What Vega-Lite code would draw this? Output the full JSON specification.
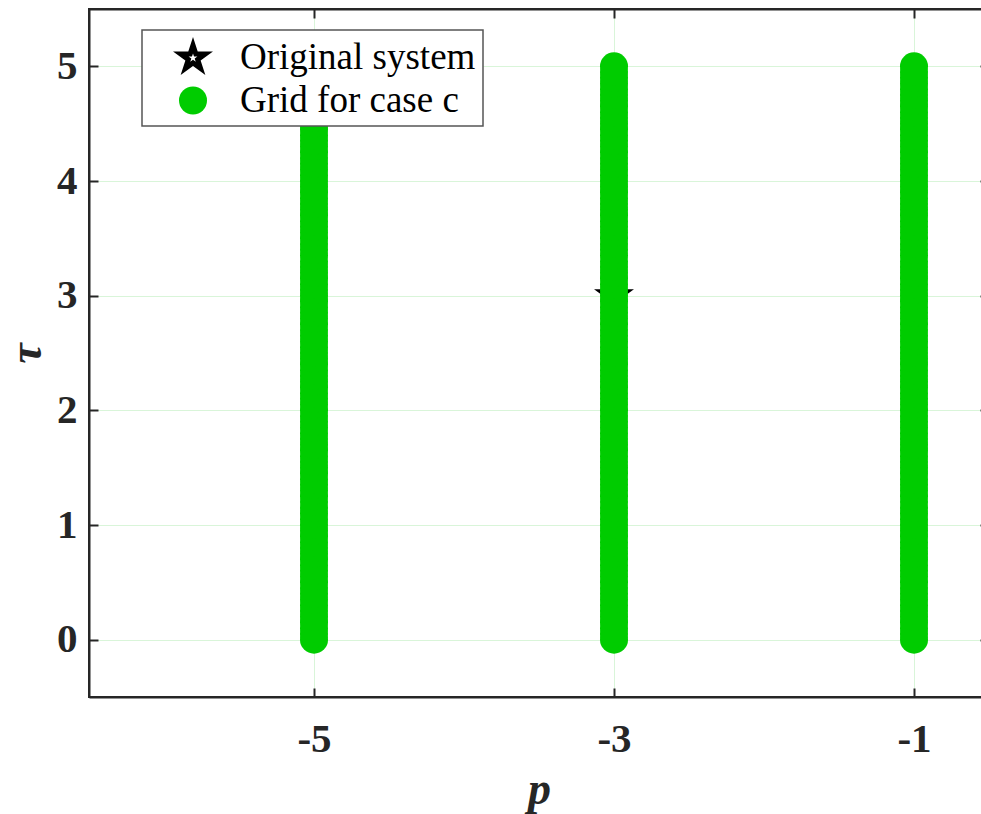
{
  "$schema": "https://vega.github.io/schema/vega-lite/v6.json",
  "width": 900,
  "height": 688,
  "autosize": {"type": "none"},
  "padding": {"left": 89, "top": 9, "right": 0, "bottom": 117},
  "background": "white",
  "config": {
    "view": {"stroke": "#262626", "strokeWidth": 2},
    "font": "Liberation Serif",
    "axis": {
      "domainColor": "#262626",
      "domainWidth": 2,
      "tickColor": "#262626",
      "tickWidth": 2,
      "tickSize": -9,
      "labelFont": "Liberation Serif",
      "labelFontWeight": "bold",
      "labelFontSize": 41,
      "labelColor": "#262626",
      "gridColor": "#d9f5d9",
      "gridWidth": 1,
      "titleFont": "Liberation Serif",
      "titleFontWeight": "bold",
      "titleFontStyle": "italic",
      "titleFontSize": 46,
      "titleColor": "#262626"
    },
    "legend": {
      "orient": "none",
      "legendX": 53,
      "legendY": 21,
      "strokeColor": "#555555",
      "strokeWidth": 1.5,
      "fillColor": "white",
      "padding": 7,
      "symbolOffset": 23,
      "labelOffset": 26,
      "labelLimit": 500,
      "labelFont": "Liberation Serif",
      "labelFontSize": 37,
      "labelColor": "black",
      "rowPadding": 5,
      "symbolStrokeWidth": 0
    }
  },
  "data": {
    "values": [
      {"p": -3, "tau": 3, "series": "Original system"},
      {"p": -5, "tau": 0, "series": "Grid for case c"}, {"p": -5, "tau": 0.05, "series": "Grid for case c"}, {"p": -5, "tau": 0.1, "series": "Grid for case c"}, {"p": -5, "tau": 0.15, "series": "Grid for case c"}, {"p": -5, "tau": 0.2, "series": "Grid for case c"}, {"p": -5, "tau": 0.25, "series": "Grid for case c"}, {"p": -5, "tau": 0.3, "series": "Grid for case c"}, {"p": -5, "tau": 0.35, "series": "Grid for case c"}, {"p": -5, "tau": 0.4, "series": "Grid for case c"}, {"p": -5, "tau": 0.45, "series": "Grid for case c"},
      {"p": -5, "tau": 0.5, "series": "Grid for case c"}, {"p": -5, "tau": 0.55, "series": "Grid for case c"}, {"p": -5, "tau": 0.6, "series": "Grid for case c"}, {"p": -5, "tau": 0.65, "series": "Grid for case c"}, {"p": -5, "tau": 0.7, "series": "Grid for case c"}, {"p": -5, "tau": 0.75, "series": "Grid for case c"}, {"p": -5, "tau": 0.8, "series": "Grid for case c"}, {"p": -5, "tau": 0.85, "series": "Grid for case c"}, {"p": -5, "tau": 0.9, "series": "Grid for case c"}, {"p": -5, "tau": 0.95, "series": "Grid for case c"},
      {"p": -5, "tau": 1, "series": "Grid for case c"}, {"p": -5, "tau": 1.05, "series": "Grid for case c"}, {"p": -5, "tau": 1.1, "series": "Grid for case c"}, {"p": -5, "tau": 1.15, "series": "Grid for case c"}, {"p": -5, "tau": 1.2, "series": "Grid for case c"}, {"p": -5, "tau": 1.25, "series": "Grid for case c"}, {"p": -5, "tau": 1.3, "series": "Grid for case c"}, {"p": -5, "tau": 1.35, "series": "Grid for case c"}, {"p": -5, "tau": 1.4, "series": "Grid for case c"}, {"p": -5, "tau": 1.45, "series": "Grid for case c"},
      {"p": -5, "tau": 1.5, "series": "Grid for case c"}, {"p": -5, "tau": 1.55, "series": "Grid for case c"}, {"p": -5, "tau": 1.6, "series": "Grid for case c"}, {"p": -5, "tau": 1.65, "series": "Grid for case c"}, {"p": -5, "tau": 1.7, "series": "Grid for case c"}, {"p": -5, "tau": 1.75, "series": "Grid for case c"}, {"p": -5, "tau": 1.8, "series": "Grid for case c"}, {"p": -5, "tau": 1.85, "series": "Grid for case c"}, {"p": -5, "tau": 1.9, "series": "Grid for case c"}, {"p": -5, "tau": 1.95, "series": "Grid for case c"},
      {"p": -5, "tau": 2, "series": "Grid for case c"}, {"p": -5, "tau": 2.05, "series": "Grid for case c"}, {"p": -5, "tau": 2.1, "series": "Grid for case c"}, {"p": -5, "tau": 2.15, "series": "Grid for case c"}, {"p": -5, "tau": 2.2, "series": "Grid for case c"}, {"p": -5, "tau": 2.25, "series": "Grid for case c"}, {"p": -5, "tau": 2.3, "series": "Grid for case c"}, {"p": -5, "tau": 2.35, "series": "Grid for case c"}, {"p": -5, "tau": 2.4, "series": "Grid for case c"}, {"p": -5, "tau": 2.45, "series": "Grid for case c"},
      {"p": -5, "tau": 2.5, "series": "Grid for case c"}, {"p": -5, "tau": 2.55, "series": "Grid for case c"}, {"p": -5, "tau": 2.6, "series": "Grid for case c"}, {"p": -5, "tau": 2.65, "series": "Grid for case c"}, {"p": -5, "tau": 2.7, "series": "Grid for case c"}, {"p": -5, "tau": 2.75, "series": "Grid for case c"}, {"p": -5, "tau": 2.8, "series": "Grid for case c"}, {"p": -5, "tau": 2.85, "series": "Grid for case c"}, {"p": -5, "tau": 2.9, "series": "Grid for case c"}, {"p": -5, "tau": 2.95, "series": "Grid for case c"},
      {"p": -5, "tau": 3, "series": "Grid for case c"}, {"p": -5, "tau": 3.05, "series": "Grid for case c"}, {"p": -5, "tau": 3.1, "series": "Grid for case c"}, {"p": -5, "tau": 3.15, "series": "Grid for case c"}, {"p": -5, "tau": 3.2, "series": "Grid for case c"}, {"p": -5, "tau": 3.25, "series": "Grid for case c"}, {"p": -5, "tau": 3.3, "series": "Grid for case c"}, {"p": -5, "tau": 3.35, "series": "Grid for case c"}, {"p": -5, "tau": 3.4, "series": "Grid for case c"}, {"p": -5, "tau": 3.45, "series": "Grid for case c"},
      {"p": -5, "tau": 3.5, "series": "Grid for case c"}, {"p": -5, "tau": 3.55, "series": "Grid for case c"}, {"p": -5, "tau": 3.6, "series": "Grid for case c"}, {"p": -5, "tau": 3.65, "series": "Grid for case c"}, {"p": -5, "tau": 3.7, "series": "Grid for case c"}, {"p": -5, "tau": 3.75, "series": "Grid for case c"}, {"p": -5, "tau": 3.8, "series": "Grid for case c"}, {"p": -5, "tau": 3.85, "series": "Grid for case c"}, {"p": -5, "tau": 3.9, "series": "Grid for case c"}, {"p": -5, "tau": 3.95, "series": "Grid for case c"},
      {"p": -5, "tau": 4, "series": "Grid for case c"}, {"p": -5, "tau": 4.05, "series": "Grid for case c"}, {"p": -5, "tau": 4.1, "series": "Grid for case c"}, {"p": -5, "tau": 4.15, "series": "Grid for case c"}, {"p": -5, "tau": 4.2, "series": "Grid for case c"}, {"p": -5, "tau": 4.25, "series": "Grid for case c"}, {"p": -5, "tau": 4.3, "series": "Grid for case c"}, {"p": -5, "tau": 4.35, "series": "Grid for case c"}, {"p": -5, "tau": 4.4, "series": "Grid for case c"}, {"p": -5, "tau": 4.45, "series": "Grid for case c"},
      {"p": -5, "tau": 4.5, "series": "Grid for case c"}, {"p": -5, "tau": 4.55, "series": "Grid for case c"}, {"p": -5, "tau": 4.6, "series": "Grid for case c"}, {"p": -5, "tau": 4.65, "series": "Grid for case c"}, {"p": -5, "tau": 4.7, "series": "Grid for case c"}, {"p": -5, "tau": 4.75, "series": "Grid for case c"}, {"p": -5, "tau": 4.8, "series": "Grid for case c"}, {"p": -5, "tau": 4.85, "series": "Grid for case c"}, {"p": -5, "tau": 4.9, "series": "Grid for case c"}, {"p": -5, "tau": 4.95, "series": "Grid for case c"},
      {"p": -5, "tau": 5, "series": "Grid for case c"},
      {"p": -3, "tau": 0, "series": "Grid for case c"}, {"p": -3, "tau": 0.05, "series": "Grid for case c"}, {"p": -3, "tau": 0.1, "series": "Grid for case c"}, {"p": -3, "tau": 0.15, "series": "Grid for case c"}, {"p": -3, "tau": 0.2, "series": "Grid for case c"}, {"p": -3, "tau": 0.25, "series": "Grid for case c"}, {"p": -3, "tau": 0.3, "series": "Grid for case c"}, {"p": -3, "tau": 0.35, "series": "Grid for case c"}, {"p": -3, "tau": 0.4, "series": "Grid for case c"}, {"p": -3, "tau": 0.45, "series": "Grid for case c"},
      {"p": -3, "tau": 0.5, "series": "Grid for case c"}, {"p": -3, "tau": 0.55, "series": "Grid for case c"}, {"p": -3, "tau": 0.6, "series": "Grid for case c"}, {"p": -3, "tau": 0.65, "series": "Grid for case c"}, {"p": -3, "tau": 0.7, "series": "Grid for case c"}, {"p": -3, "tau": 0.75, "series": "Grid for case c"}, {"p": -3, "tau": 0.8, "series": "Grid for case c"}, {"p": -3, "tau": 0.85, "series": "Grid for case c"}, {"p": -3, "tau": 0.9, "series": "Grid for case c"}, {"p": -3, "tau": 0.95, "series": "Grid for case c"},
      {"p": -3, "tau": 1, "series": "Grid for case c"}, {"p": -3, "tau": 1.05, "series": "Grid for case c"}, {"p": -3, "tau": 1.1, "series": "Grid for case c"}, {"p": -3, "tau": 1.15, "series": "Grid for case c"}, {"p": -3, "tau": 1.2, "series": "Grid for case c"}, {"p": -3, "tau": 1.25, "series": "Grid for case c"}, {"p": -3, "tau": 1.3, "series": "Grid for case c"}, {"p": -3, "tau": 1.35, "series": "Grid for case c"}, {"p": -3, "tau": 1.4, "series": "Grid for case c"}, {"p": -3, "tau": 1.45, "series": "Grid for case c"},
      {"p": -3, "tau": 1.5, "series": "Grid for case c"}, {"p": -3, "tau": 1.55, "series": "Grid for case c"}, {"p": -3, "tau": 1.6, "series": "Grid for case c"}, {"p": -3, "tau": 1.65, "series": "Grid for case c"}, {"p": -3, "tau": 1.7, "series": "Grid for case c"}, {"p": -3, "tau": 1.75, "series": "Grid for case c"}, {"p": -3, "tau": 1.8, "series": "Grid for case c"}, {"p": -3, "tau": 1.85, "series": "Grid for case c"}, {"p": -3, "tau": 1.9, "series": "Grid for case c"}, {"p": -3, "tau": 1.95, "series": "Grid for case c"},
      {"p": -3, "tau": 2, "series": "Grid for case c"}, {"p": -3, "tau": 2.05, "series": "Grid for case c"}, {"p": -3, "tau": 2.1, "series": "Grid for case c"}, {"p": -3, "tau": 2.15, "series": "Grid for case c"}, {"p": -3, "tau": 2.2, "series": "Grid for case c"}, {"p": -3, "tau": 2.25, "series": "Grid for case c"}, {"p": -3, "tau": 2.3, "series": "Grid for case c"}, {"p": -3, "tau": 2.35, "series": "Grid for case c"}, {"p": -3, "tau": 2.4, "series": "Grid for case c"}, {"p": -3, "tau": 2.45, "series": "Grid for case c"},
      {"p": -3, "tau": 2.5, "series": "Grid for case c"}, {"p": -3, "tau": 2.55, "series": "Grid for case c"}, {"p": -3, "tau": 2.6, "series": "Grid for case c"}, {"p": -3, "tau": 2.65, "series": "Grid for case c"}, {"p": -3, "tau": 2.7, "series": "Grid for case c"}, {"p": -3, "tau": 2.75, "series": "Grid for case c"}, {"p": -3, "tau": 2.8, "series": "Grid for case c"}, {"p": -3, "tau": 2.85, "series": "Grid for case c"}, {"p": -3, "tau": 2.9, "series": "Grid for case c"}, {"p": -3, "tau": 2.95, "series": "Grid for case c"},
      {"p": -3, "tau": 3, "series": "Grid for case c"}, {"p": -3, "tau": 3.05, "series": "Grid for case c"}, {"p": -3, "tau": 3.1, "series": "Grid for case c"}, {"p": -3, "tau": 3.15, "series": "Grid for case c"}, {"p": -3, "tau": 3.2, "series": "Grid for case c"}, {"p": -3, "tau": 3.25, "series": "Grid for case c"}, {"p": -3, "tau": 3.3, "series": "Grid for case c"}, {"p": -3, "tau": 3.35, "series": "Grid for case c"}, {"p": -3, "tau": 3.4, "series": "Grid for case c"}, {"p": -3, "tau": 3.45, "series": "Grid for case c"},
      {"p": -3, "tau": 3.5, "series": "Grid for case c"}, {"p": -3, "tau": 3.55, "series": "Grid for case c"}, {"p": -3, "tau": 3.6, "series": "Grid for case c"}, {"p": -3, "tau": 3.65, "series": "Grid for case c"}, {"p": -3, "tau": 3.7, "series": "Grid for case c"}, {"p": -3, "tau": 3.75, "series": "Grid for case c"}, {"p": -3, "tau": 3.8, "series": "Grid for case c"}, {"p": -3, "tau": 3.85, "series": "Grid for case c"}, {"p": -3, "tau": 3.9, "series": "Grid for case c"}, {"p": -3, "tau": 3.95, "series": "Grid for case c"},
      {"p": -3, "tau": 4, "series": "Grid for case c"}, {"p": -3, "tau": 4.05, "series": "Grid for case c"}, {"p": -3, "tau": 4.1, "series": "Grid for case c"}, {"p": -3, "tau": 4.15, "series": "Grid for case c"}, {"p": -3, "tau": 4.2, "series": "Grid for case c"}, {"p": -3, "tau": 4.25, "series": "Grid for case c"}, {"p": -3, "tau": 4.3, "series": "Grid for case c"}, {"p": -3, "tau": 4.35, "series": "Grid for case c"}, {"p": -3, "tau": 4.4, "series": "Grid for case c"}, {"p": -3, "tau": 4.45, "series": "Grid for case c"},
      {"p": -3, "tau": 4.5, "series": "Grid for case c"}, {"p": -3, "tau": 4.55, "series": "Grid for case c"}, {"p": -3, "tau": 4.6, "series": "Grid for case c"}, {"p": -3, "tau": 4.65, "series": "Grid for case c"}, {"p": -3, "tau": 4.7, "series": "Grid for case c"}, {"p": -3, "tau": 4.75, "series": "Grid for case c"}, {"p": -3, "tau": 4.8, "series": "Grid for case c"}, {"p": -3, "tau": 4.85, "series": "Grid for case c"}, {"p": -3, "tau": 4.9, "series": "Grid for case c"}, {"p": -3, "tau": 4.95, "series": "Grid for case c"},
      {"p": -3, "tau": 5, "series": "Grid for case c"},
      {"p": -1, "tau": 0, "series": "Grid for case c"}, {"p": -1, "tau": 0.05, "series": "Grid for case c"}, {"p": -1, "tau": 0.1, "series": "Grid for case c"}, {"p": -1, "tau": 0.15, "series": "Grid for case c"}, {"p": -1, "tau": 0.2, "series": "Grid for case c"}, {"p": -1, "tau": 0.25, "series": "Grid for case c"}, {"p": -1, "tau": 0.3, "series": "Grid for case c"}, {"p": -1, "tau": 0.35, "series": "Grid for case c"}, {"p": -1, "tau": 0.4, "series": "Grid for case c"}, {"p": -1, "tau": 0.45, "series": "Grid for case c"},
      {"p": -1, "tau": 0.5, "series": "Grid for case c"}, {"p": -1, "tau": 0.55, "series": "Grid for case c"}, {"p": -1, "tau": 0.6, "series": "Grid for case c"}, {"p": -1, "tau": 0.65, "series": "Grid for case c"}, {"p": -1, "tau": 0.7, "series": "Grid for case c"}, {"p": -1, "tau": 0.75, "series": "Grid for case c"}, {"p": -1, "tau": 0.8, "series": "Grid for case c"}, {"p": -1, "tau": 0.85, "series": "Grid for case c"}, {"p": -1, "tau": 0.9, "series": "Grid for case c"}, {"p": -1, "tau": 0.95, "series": "Grid for case c"},
      {"p": -1, "tau": 1, "series": "Grid for case c"}, {"p": -1, "tau": 1.05, "series": "Grid for case c"}, {"p": -1, "tau": 1.1, "series": "Grid for case c"}, {"p": -1, "tau": 1.15, "series": "Grid for case c"}, {"p": -1, "tau": 1.2, "series": "Grid for case c"}, {"p": -1, "tau": 1.25, "series": "Grid for case c"}, {"p": -1, "tau": 1.3, "series": "Grid for case c"}, {"p": -1, "tau": 1.35, "series": "Grid for case c"}, {"p": -1, "tau": 1.4, "series": "Grid for case c"}, {"p": -1, "tau": 1.45, "series": "Grid for case c"},
      {"p": -1, "tau": 1.5, "series": "Grid for case c"}, {"p": -1, "tau": 1.55, "series": "Grid for case c"}, {"p": -1, "tau": 1.6, "series": "Grid for case c"}, {"p": -1, "tau": 1.65, "series": "Grid for case c"}, {"p": -1, "tau": 1.7, "series": "Grid for case c"}, {"p": -1, "tau": 1.75, "series": "Grid for case c"}, {"p": -1, "tau": 1.8, "series": "Grid for case c"}, {"p": -1, "tau": 1.85, "series": "Grid for case c"}, {"p": -1, "tau": 1.9, "series": "Grid for case c"}, {"p": -1, "tau": 1.95, "series": "Grid for case c"},
      {"p": -1, "tau": 2, "series": "Grid for case c"}, {"p": -1, "tau": 2.05, "series": "Grid for case c"}, {"p": -1, "tau": 2.1, "series": "Grid for case c"}, {"p": -1, "tau": 2.15, "series": "Grid for case c"}, {"p": -1, "tau": 2.2, "series": "Grid for case c"}, {"p": -1, "tau": 2.25, "series": "Grid for case c"}, {"p": -1, "tau": 2.3, "series": "Grid for case c"}, {"p": -1, "tau": 2.35, "series": "Grid for case c"}, {"p": -1, "tau": 2.4, "series": "Grid for case c"}, {"p": -1, "tau": 2.45, "series": "Grid for case c"},
      {"p": -1, "tau": 2.5, "series": "Grid for case c"}, {"p": -1, "tau": 2.55, "series": "Grid for case c"}, {"p": -1, "tau": 2.6, "series": "Grid for case c"}, {"p": -1, "tau": 2.65, "series": "Grid for case c"}, {"p": -1, "tau": 2.7, "series": "Grid for case c"}, {"p": -1, "tau": 2.75, "series": "Grid for case c"}, {"p": -1, "tau": 2.8, "series": "Grid for case c"}, {"p": -1, "tau": 2.85, "series": "Grid for case c"}, {"p": -1, "tau": 2.9, "series": "Grid for case c"}, {"p": -1, "tau": 2.95, "series": "Grid for case c"},
      {"p": -1, "tau": 3, "series": "Grid for case c"}, {"p": -1, "tau": 3.05, "series": "Grid for case c"}, {"p": -1, "tau": 3.1, "series": "Grid for case c"}, {"p": -1, "tau": 3.15, "series": "Grid for case c"}, {"p": -1, "tau": 3.2, "series": "Grid for case c"}, {"p": -1, "tau": 3.25, "series": "Grid for case c"}, {"p": -1, "tau": 3.3, "series": "Grid for case c"}, {"p": -1, "tau": 3.35, "series": "Grid for case c"}, {"p": -1, "tau": 3.4, "series": "Grid for case c"}, {"p": -1, "tau": 3.45, "series": "Grid for case c"},
      {"p": -1, "tau": 3.5, "series": "Grid for case c"}, {"p": -1, "tau": 3.55, "series": "Grid for case c"}, {"p": -1, "tau": 3.6, "series": "Grid for case c"}, {"p": -1, "tau": 3.65, "series": "Grid for case c"}, {"p": -1, "tau": 3.7, "series": "Grid for case c"}, {"p": -1, "tau": 3.75, "series": "Grid for case c"}, {"p": -1, "tau": 3.8, "series": "Grid for case c"}, {"p": -1, "tau": 3.85, "series": "Grid for case c"}, {"p": -1, "tau": 3.9, "series": "Grid for case c"}, {"p": -1, "tau": 3.95, "series": "Grid for case c"},
      {"p": -1, "tau": 4, "series": "Grid for case c"}, {"p": -1, "tau": 4.05, "series": "Grid for case c"}, {"p": -1, "tau": 4.1, "series": "Grid for case c"}, {"p": -1, "tau": 4.15, "series": "Grid for case c"}, {"p": -1, "tau": 4.2, "series": "Grid for case c"}, {"p": -1, "tau": 4.25, "series": "Grid for case c"}, {"p": -1, "tau": 4.3, "series": "Grid for case c"}, {"p": -1, "tau": 4.35, "series": "Grid for case c"}, {"p": -1, "tau": 4.4, "series": "Grid for case c"}, {"p": -1, "tau": 4.45, "series": "Grid for case c"},
      {"p": -1, "tau": 4.5, "series": "Grid for case c"}, {"p": -1, "tau": 4.55, "series": "Grid for case c"}, {"p": -1, "tau": 4.6, "series": "Grid for case c"}, {"p": -1, "tau": 4.65, "series": "Grid for case c"}, {"p": -1, "tau": 4.7, "series": "Grid for case c"}, {"p": -1, "tau": 4.75, "series": "Grid for case c"}, {"p": -1, "tau": 4.8, "series": "Grid for case c"}, {"p": -1, "tau": 4.85, "series": "Grid for case c"}, {"p": -1, "tau": 4.9, "series": "Grid for case c"}, {"p": -1, "tau": 4.95, "series": "Grid for case c"},
      {"p": -1, "tau": 5, "series": "Grid for case c"}
    ]
  },
  "layer": [
    {
      "mark": {"type": "point", "filled": true, "opacity": 1, "strokeWidth": 0},
      "encoding": {
        "x": {
          "field": "p",
          "type": "quantitative",
          "scale": {"domain": [-6.5, -0.5], "nice": false, "zero": false},
          "axis": {
            "orient": "bottom",
            "values": [-5, -3, -1],
            "labelExpr": "'' + datum.value",
            "labelPadding": 31,
            "title": "p",
            "titlePadding": 8,
            "grid": true
          }
        },
        "y": {
          "field": "tau",
          "type": "quantitative",
          "scale": {"domain": [-0.5, 5.5], "nice": false, "zero": false},
          "axis": {
            "orient": "left",
            "values": [0, 1, 2, 3, 4, 5],
            "labelExpr": "'' + datum.value",
            "labelPadding": 21,
            "title": "τ",
            "titlePadding": 6,
            "grid": true
          }
        },
        "color": {
          "field": "series",
          "type": "ordinal",
          "scale": {"domain": ["Original system", "Grid for case c"], "range": ["black", "#00cc00"]},
          "legend": {"title": null}
        },
        "shape": {
          "field": "series",
          "type": "ordinal",
          "scale": {
            "domain": ["Original system", "Grid for case c"],
            "range": [
              "M0,-1L0.2245,-0.309L0.9511,-0.309L0.3633,0.118L0.5878,0.809L0,0.382L-0.5878,0.809L-0.3633,0.118L-0.9511,-0.309L-0.2245,-0.309ZM0,-0.22L-0.0494,-0.068L-0.2092,-0.068L-0.0799,0.026L-0.1293,0.178L0,0.084L0.1293,0.178L0.0799,0.026L0.2092,-0.068L0.0494,-0.068Z",
              "circle"
            ]
          },
          "legend": {"title": null}
        },
        "size": {
          "field": "series",
          "type": "ordinal",
          "scale": {"domain": ["Original system", "Grid for case c"], "range": [1764, 784]},
          "legend": {"title": null}
        }
      }
    },
    {
      "mark": {"type": "point", "opacity": 0},
      "encoding": {
        "x": {
          "field": "p",
          "type": "quantitative",
          "axis": {"orient": "top", "values": [-5, -3, -1], "labels": false, "title": null, "grid": false}
        },
        "y": {
          "field": "tau",
          "type": "quantitative",
          "axis": {"orient": "right", "values": [0, 1, 2, 3, 4, 5], "labels": false, "title": null, "grid": false}
        }
      }
    }
  ],
  "resolve": {"axis": {"x": "independent", "y": "independent"}}
}
